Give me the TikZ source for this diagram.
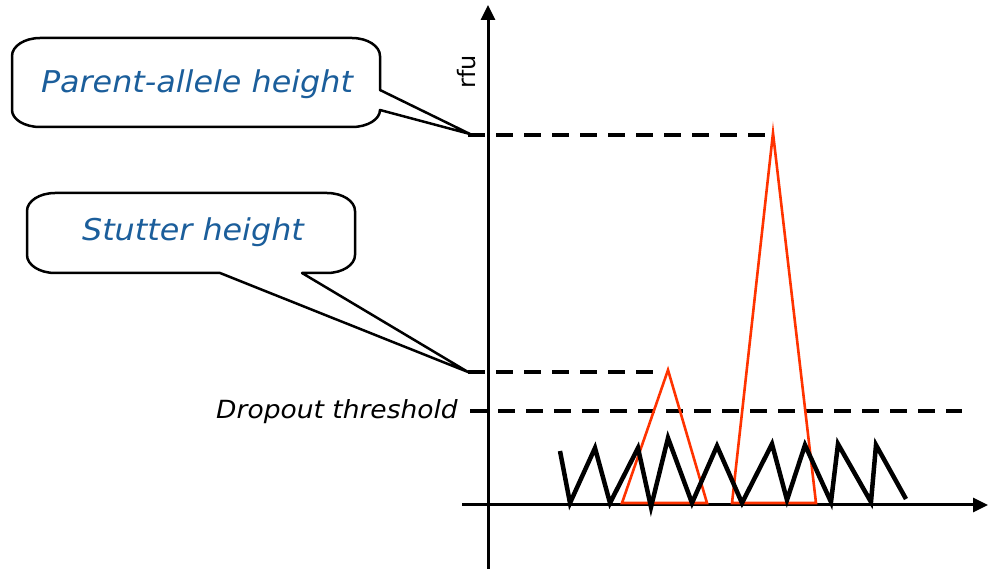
\documentclass[tikz,border=0pt]{standalone}
\usepackage{fontspec}
\setmainfont{DejaVu Sans}
\usetikzlibrary{arrows.meta}
\definecolor{calloutblue}{HTML}{1B5E9B}
\definecolor{peakred}{HTML}{FF3300}
\begin{document}
\begin{tikzpicture}[x=1pt,y=-1pt,
  axis/.style={line width=3pt,-{Triangle[length=15pt,width=14pt]}},
  level/.style={line width=4pt,dash pattern=on 17pt off 11pt},
  noise/.style={line width=4.5pt,line join=miter},
  peak/.style={line width=2.6pt,draw=peakred},
  callout/.style={line width=2.5pt,fill=white,line join=round},
  calltext/.style={font=\itshape\fontsize{30}{36}\selectfont,text=calloutblue,inner sep=0pt,xscale=1.06},
  plaintext/.style={font=\itshape\fontsize{25}{30}\selectfont,inner sep=0pt,xscale=1.06},
]
\useasboundingbox (0,0) rectangle (989,569);

% axes
\coordinate (ybot) at (488,570);
\coordinate (ytop) at (488,5);
\coordinate (xleft) at (462,505);
\coordinate (xright) at (988,505);
\draw[axis] (ybot) -- (ytop);
\draw[axis] (xleft) -- (xright);
\node[rotate=90,font=\fontsize{24}{28}\selectfont,inner sep=0pt] (rfu) at (467,72) {rfu};

% dashed levels
\coordinate (pa1) at (468,135);
\coordinate (pa2) at (772,135);
\coordinate (st1) at (468,372);
\coordinate (st2) at (662,372);
\coordinate (dt1) at (470,411);
\coordinate (dt2) at (962,411);
\draw[level] (pa1) -- (pa2);
\draw[level] (st1) -- (st2);
\draw[level] (dt1) -- (dt2);
\node[plaintext,anchor=east] (dropout) at (458,412) {Dropout threshold};

% red peaks
\coordinate (s1) at (622,503);
\coordinate (s2) at (668,370);
\coordinate (s3) at (707,503);
\coordinate (p1) at (732,503);
\coordinate (p2) at (773,133);
\coordinate (p3) at (816,503);
\draw[peak] (s1) -- (s2) -- (s3) -- cycle;
\draw[peak] (p1) -- (p2) -- (p3) -- cycle;

% noise zigzag
\draw[noise] (560,451) -- (570,503) -- (595,448) -- (610,503) -- (638,448)
  -- (651,507) -- (668,438) -- (692,503) -- (717,446) -- (742,503)
  -- (772,444) -- (787,500) -- (805,445) -- (831,502) -- (838,444)
  -- (871,502) -- (876,445) -- (906,499);

% callout: parent-allele height
\coordinate (patip) at (470,134);
\draw[callout] (40,38) -- (352,38) .. controls (367.5,38) and (380,46.1) .. (380,56)
  -- (380,90) -- (patip) -- (380,110)
  .. controls (380,119.4) and (367.5,127) .. (352,127) -- (40,127)
  .. controls (24.5,127) and (12,119.4) .. (12,110) -- (12,56)
  .. controls (12,46.1) and (24.5,38) .. (40,38) -- cycle;
\node[calltext] (parent) at (197,84) {Parent-allele height};

% callout: stutter height
\coordinate (sttip) at (468,372);
\draw[callout] (55,193) -- (327,193) .. controls (342.5,193) and (355,201.1) .. (355,211)
  -- (355,255) .. controls (355,264.9) and (342.5,273) .. (327,273)
  -- (302,273) -- (sttip) -- (220,273) -- (55,273)
  .. controls (39.5,273) and (27,264.9) .. (27,255) -- (27,211)
  .. controls (27,201.1) and (39.5,193) .. (55,193) -- cycle;
\node[calltext] (stutter) at (193,232) {Stutter height};
\end{tikzpicture}
\end{document}
